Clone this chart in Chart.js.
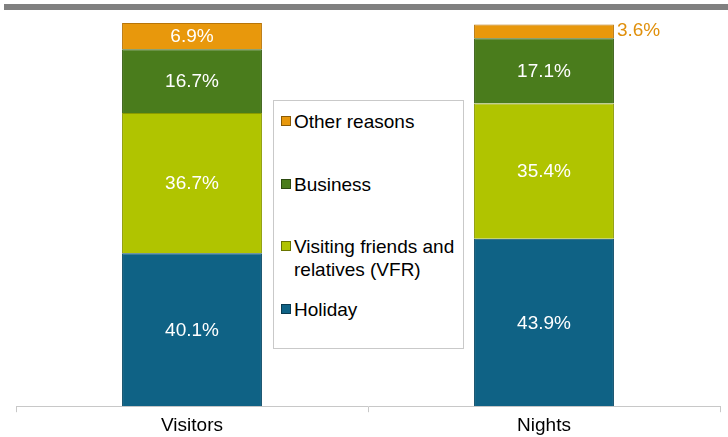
<!DOCTYPE html>
<html>
<head>
<meta charset="utf-8">
<script src="https://cdn.jsdelivr.net/npm/chart.js@4.4.1/dist/chart.umd.min.js"></script>
<style>
html,body{margin:0;padding:0;background:#fff;}
#wrap{position:relative;width:728px;height:437px;overflow:hidden;font-family:"Liberation Sans",Arial,sans-serif;}
#topbar{position:absolute;left:4px;top:4px;width:724px;height:6px;background:#808080;}
#legend{position:absolute;left:273px;top:100px;width:189px;height:247px;border:1px solid #c9c9c9;background:#fff;}
.li{position:absolute;left:7px;font-size:19px;line-height:23px;color:#000;}
.sw{position:absolute;left:0;top:6px;width:10px;height:10px;border:1px solid rgba(0,0,0,0.4);box-sizing:border-box;}
.lt{margin-left:13px;display:block;}
</style>
</head>
<body>
<div id="wrap">
<canvas id="c" width="728" height="439"></canvas>
<div id="topbar"></div>
<div id="legend"></div>
</div>
<script>
const categories = ["Visitors", "Nights"];
const holiday = [40.1, 43.9];
const vfr = [36.7, 35.4];
const business = [16.7, 17.1];
const other = [6.9, 3.6];
const seriesNames = ["Holiday", "Visiting friends and relatives (VFR)", "Business", "Other reasons"];
const seriesColors = ["#0f6285", "#b0c400", "#4a7c1c", "#e8980c"];
const borderColors = ["#0a4a66", "#8a9a00", "#365e12", "#b87508"];

const seriesData = [holiday, vfr, business, other];
const datasets = seriesData.map((d, i) => ({
  label: seriesNames[i],
  data: d,
  backgroundColor: seriesColors[i],
  borderColor: borderColors[i],
  borderWidth: 1,
  barPercentage: 0.795,
  categoryPercentage: 0.5
}));

const labelPlugin = {
  id: 'segLabels',
  afterDatasetsDraw(chart) {
    const ctx = chart.ctx;
    ctx.save();
    ctx.font = '19px "Liberation Sans", Arial, sans-serif';
    ctx.textBaseline = 'middle';
    chart.data.datasets.forEach((ds, di) => {
      const meta = chart.getDatasetMeta(di);
      meta.data.forEach((el, i) => {
        const p = el.getProps(['x', 'y', 'base', 'width'], true);
        const h = Math.abs(p.base - p.y);
        const txt = ds.data[i].toFixed(1) + '%';
        if (h < 20) {
          ctx.fillStyle = '#e0900c';
          ctx.textAlign = 'left';
          ctx.fillText(txt, p.x + p.width / 2 + 3, (p.y + p.base) / 2 - 1);
        } else {
          ctx.fillStyle = '#ffffff';
          ctx.textAlign = 'center';
          ctx.fillText(txt, p.x, (p.y + p.base) / 2 + 1);
        }
      });
    });
    ctx.restore();
  }
};

new Chart(document.getElementById('c'), {
  type: 'bar',
  data: { labels: categories, datasets: datasets },
  options: {
    responsive: false,
    animation: false,
    layout: { padding: { left: 16, right: 8, top: 23, bottom: 0 } },
    plugins: { legend: { display: false }, tooltip: { enabled: false } },
    scales: {
      x: {
        stacked: true,
        border: { display: true, color: '#c8c8c8', width: 1 },
        grid: { display: true, drawOnChartArea: false, offset: true, tickLength: 6, color: '#c8c8c8' },
        ticks: { color: '#000', font: { family: '"Liberation Sans", Arial, sans-serif', size: 19 }, padding: 2 }
      },
      y: {
        stacked: true,
        display: false,
        min: 0,
        max: 100.4
      }
    }
  },
  plugins: [labelPlugin]
});

// HTML legend, reverse order
const legend = document.getElementById('legend');
const tops = [208, 145, 83, 20];
for (let i = seriesNames.length - 1; i >= 0; i--) {
  const item = document.createElement('div');
  item.className = 'li';
  item.style.top = (tops[i] - 11) + 'px';
  item.style.width = '182px';
  const sw = document.createElement('div');
  sw.className = 'sw';
  sw.style.background = seriesColors[i];
  const t = document.createElement('span');
  t.className = 'lt';
  t.textContent = seriesNames[i];
  item.appendChild(sw);
  item.appendChild(t);
  legend.appendChild(item);
}
</script>
</body>
</html>
